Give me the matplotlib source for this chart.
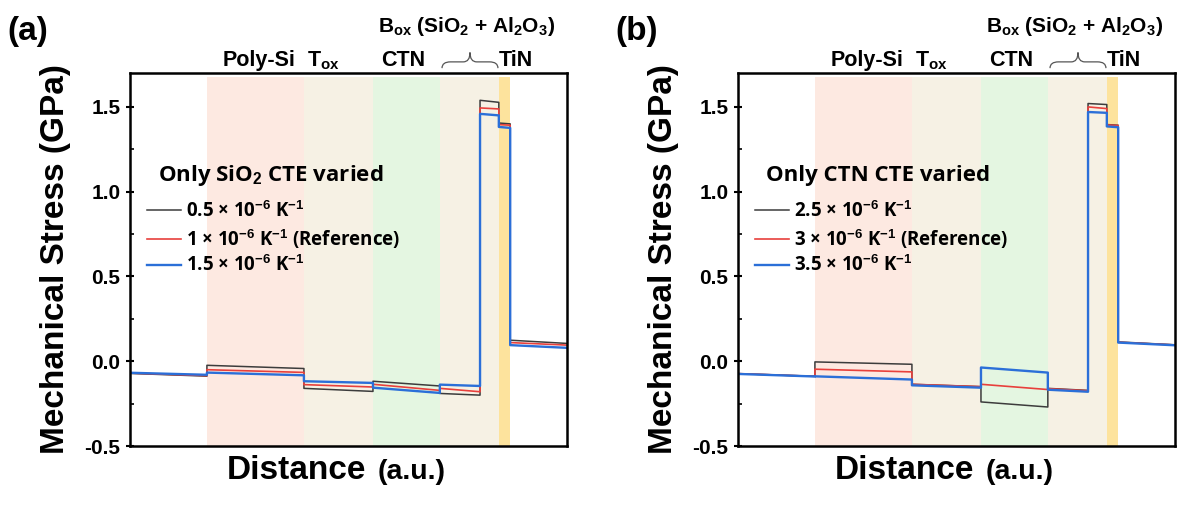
import matplotlib.pyplot as plt
from matplotlib.path import Path
from matplotlib.patches import PathPatch
from matplotlib.ticker import MultipleLocator
import matplotlib.transforms as mtransforms

plt.rcParams['font.family'] = ['Liberation Sans', 'DejaVu Sans']
plt.rcParams['font.weight'] = 'bold'
plt.rcParams['axes.labelweight'] = 'bold'
plt.rcParams['axes.unicode_minus'] = False
plt.rcParams['mathtext.fontset'] = 'custom'
plt.rcParams['mathtext.rm'] = 'Liberation Sans:bold'
plt.rcParams['mathtext.bf'] = 'Liberation Sans:bold'
plt.rcParams['mathtext.it'] = 'Liberation Sans:bold:italic'
plt.rcParams['mathtext.default'] = 'rm'

# segment boundaries along the stack (a.u.)
edges = [0, 17.6, 39.8, 55.6, 70.9, 80.1, 84.4, 87.0, 100]

# layer shading: (start, end, colour)
layer_names = ['Poly-Si', 'Tox', 'CTN', 'Box', 'TiN']
layer_start = [17.6, 39.8, 55.6, 70.9, 84.4]
layer_end = [39.8, 55.6, 70.9, 84.4, 87.0]
layer_col = ['#fde9e1', '#f6f1e4', '#e4f6e1', '#f6f1e4', '#fde39d']

# (a) only SiO2 CTE varied: stress at start / end of each segment (GPa)
a_black_start = [-0.072, -0.024, -0.160, -0.118, -0.190, 1.539, 1.405, 0.124]
a_black_end = [-0.088, -0.043, -0.178, -0.146, -0.200, 1.527, 1.400, 0.105]
a_red_start = [-0.070, -0.050, -0.138, -0.136, -0.160, 1.494, 1.396, 0.110]
a_red_end = [-0.085, -0.066, -0.152, -0.172, -0.180, 1.488, 1.392, 0.095]
a_blue_start = [-0.068, -0.067, -0.118, -0.156, -0.138, 1.459, 1.382, 0.095]
a_blue_end = [-0.080, -0.083, -0.128, -0.187, -0.146, 1.450, 1.376, 0.079]
a_labels = ['0.5 × 10$^{-6}$ K$^{-1}$', '1 × 10$^{-6}$ K$^{-1}$ (Reference)',
            '1.5 × 10$^{-6}$ K$^{-1}$']

# (b) only CTN CTE varied
b_black_start = [-0.073, -0.004, -0.136, -0.240, -0.160, 1.520, 1.396, 0.114]
b_black_end = [-0.089, -0.018, -0.150, -0.270, -0.172, 1.514, 1.392, 0.097]
b_red_start = [-0.073, -0.047, -0.136, -0.136, -0.162, 1.500, 1.394, 0.112]
b_red_end = [-0.089, -0.063, -0.150, -0.167, -0.174, 1.490, 1.390, 0.096]
b_blue_start = [-0.075, -0.089, -0.142, -0.037, -0.168, 1.470, 1.385, 0.110]
b_blue_end = [-0.090, -0.108, -0.156, -0.067, -0.180, 1.465, 1.380, 0.094]
b_labels = ['2.5 × 10$^{-6}$ K$^{-1}$', '3 × 10$^{-6}$ K$^{-1}$ (Reference)',
            '3.5 × 10$^{-6}$ K$^{-1}$']

colors = ['#3c3c3c', '#e8403c', '#2b6fd8']
widths = [1.1, 1.2, 1.7]

legend_font = {'family': ['Open Sans', 'DejaVu Sans'], 'weight': 'bold', 'size': 13.5}


def step_line(starts, ends):
    xs, ys = [], []
    for i in range(len(starts)):
        xs += [edges[i], edges[i + 1]]
        ys += [starts[i], ends[i]]
    return xs, ys


def brace(ax, x0, x1, y0, y1):
    # curly brace above the axes, x in data and y in axes coords
    w = x1 - x0
    xm = (x0 + x1) / 2
    ym = y0 + (y1 - y0) * 0.4
    verts = [(x0, y0), (x0, ym), (x0 + 0.15 * w, ym), (xm - 0.12 * w, ym),
             (xm, ym), (xm, y1), (xm, ym), (xm + 0.12 * w, ym),
             (x1 - 0.15 * w, ym), (x1, ym), (x1, y0)]
    codes = [Path.MOVETO, Path.CURVE3, Path.CURVE3, Path.LINETO,
             Path.CURVE3, Path.CURVE3, Path.CURVE3, Path.CURVE3,
             Path.LINETO, Path.CURVE3, Path.CURVE3]
    tr = mtransforms.blended_transform_factory(ax.transData, ax.transAxes)
    ax.add_patch(PathPatch(Path(verts, codes), fc='none', ec='#555555', lw=0.9,
                           transform=tr, clip_on=False))


def panel(ax, series, labels, title, tag):
    for s, e, l in zip(layer_start, layer_end, layer_col):
        ax.axvspan(s, e, ymax=0.99, color=l, lw=0, zorder=0)
    for (st, en), c, w, lab in zip(series, colors, widths, labels):
        xs, ys = step_line(st, en)
        ax.plot(xs, ys, color=c, lw=w, label=lab, zorder=2)

    ax.set_xlim(0, 100)
    ax.set_ylim(-0.5, 1.70)
    ax.set_xticks([])
    ax.yaxis.set_major_locator(MultipleLocator(0.5))
    ax.yaxis.set_minor_locator(MultipleLocator(0.25))
    ax.yaxis.set_major_formatter('{x:.1f}')
    ax.tick_params(axis='y', which='major', direction='inout', length=6, width=1.5,
                   labelsize=15, pad=4)
    ax.tick_params(axis='y', which='minor', direction='in', length=3, width=1.2)
    for sp in ax.spines.values():
        sp.set_linewidth(1.8)

    ax.set_ylabel('Mechanical Stress (GPa)', fontsize=24, fontweight='bold')
    ax.yaxis.set_label_coords(-0.135, 0.5)
    ax.text(0.222, -0.0885, 'Distance', transform=ax.transAxes, fontsize=24,
            ha='left', va='baseline')
    ax.text(0.5675, -0.0885, '(a.u.)', transform=ax.transAxes, fontsize=20.5,
            ha='left', va='baseline')

    # layer names above the frame
    xt = ax.get_xaxis_transform()
    ax.text(29.5, 1.019, 'Poly-Si', transform=xt, fontsize=15.5, ha='center', va='baseline')
    ax.text(40.5, 1.019, 'T$_{ox}$', transform=xt, fontsize=15.5, ha='left', va='baseline')
    ax.text(62.5, 1.019, 'CTN', transform=xt, fontsize=15.5, ha='center', va='baseline')
    ax.text(84.3, 1.019, 'TiN', transform=xt, fontsize=15.5, ha='left', va='baseline')
    ax.text(77.0, 1.110, 'B$_{ox}$ (SiO$_2$ + Al$_2$O$_3$)', transform=xt,
            fontsize=15, ha='center', va='baseline')
    brace(ax, 71.4, 84.2, 1.013, 1.055)

    ax.text(0.064, 0.710, title, transform=ax.transAxes, ha='left', va='baseline',
            fontdict={'family': ['Open Sans', 'DejaVu Sans'], 'weight': 'bold',
                      'size': 16})
    ax.legend(loc='upper left', bbox_to_anchor=(0.039, 0.655), frameon=False,
              borderpad=0, borderaxespad=0, handlelength=1.8, handletextpad=0.3,
              labelspacing=0.3, prop=legend_font)

    ax.text(-0.281, 1.088, tag, transform=ax.transAxes, fontsize=24, ha='left',
            va='baseline')


fig = plt.figure(figsize=(11.77, 5.05), dpi=100)
ax_a = fig.add_axes([130 / 1177, 1 - 446 / 505, 437 / 1177, 373 / 505])
ax_b = fig.add_axes([738 / 1177, 1 - 446 / 505, 437 / 1177, 373 / 505])

panel(ax_a,
      [(a_black_start, a_black_end), (a_red_start, a_red_end), (a_blue_start, a_blue_end)],
      a_labels, 'Only SiO$_2$ CTE varied', '(a)')
panel(ax_b,
      [(b_black_start, b_black_end), (b_red_start, b_red_end), (b_blue_start, b_blue_end)],
      b_labels, 'Only CTN CTE varied', '(b)')

fig.savefig('out.png', dpi=100)
